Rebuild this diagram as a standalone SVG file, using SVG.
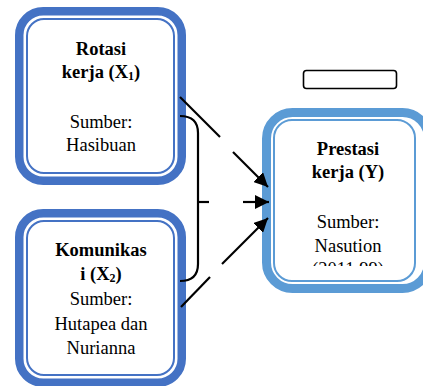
<svg xmlns="http://www.w3.org/2000/svg" width="423" height="386" viewBox="0 0 423 386">
<style>
.t{font-family:'Liberation Serif',Tinos,'DejaVu Serif',serif;font-size:18.5px;fill:#000;text-anchor:middle}
.b{font-weight:bold}
.thick1{fill:none;stroke:#4472C4;stroke-width:8.5}
.thin1{fill:none;stroke:#4472C4;stroke-width:2}
.thick3{fill:none;stroke:#5B9BD5;stroke-width:9}
.thin3{fill:none;stroke:#5B9BD5;stroke-width:2}
.ln{fill:none;stroke:#000;stroke-width:2.2}
</style>
<defs>
<marker id="ah" markerUnits="userSpaceOnUse" markerWidth="16" markerHeight="14" refX="14" refY="7" orient="auto">
<path d="M0,0 L14,7 L0,14 Z" fill="#000"/>
</marker>
<clipPath id="c3"><rect x="262" y="100" width="170" height="166"/></clipPath>
</defs>
<rect width="423" height="386" fill="#fff"/>
<g id="box1">
<rect class="thick1" x="19.25" y="11.25" width="162.5" height="169.5" rx="24"/>
<rect class="thin1" x="27" y="19" width="147" height="154" rx="17"/>
<text class="t b" x="101" y="55">Rotasi</text>
<text class="t b" x="101" y="78">kerja (X<tspan font-size="12" dy="2">1</tspan><tspan dy="-2">)</tspan></text>
<text class="t" x="101" y="128">Sumber:</text>
<text class="t" x="101" y="151">Hasibuan</text>
</g>
<g id="box2">
<rect class="thick1" x="19.25" y="213.25" width="162.5" height="169.5" rx="24"/>
<rect class="thin1" x="27" y="221" width="147" height="154" rx="17"/>
<text class="t b" x="101" y="256">Komunikas</text>
<text class="t b" x="101" y="280">i (X<tspan font-size="12" dy="2">2</tspan><tspan dy="-2">)</tspan></text>
<text class="t" x="101" y="305">Sumber:</text>
<text class="t" x="101" y="330">Hutapea dan</text>
<text class="t" x="101" y="354">Nurianna</text>
</g>
<g id="box3">
<rect class="thick3" x="266.5" y="112.5" width="162" height="176" rx="26"/>
<rect class="thin3" x="274" y="120" width="141" height="161" rx="18"/>
<text class="t b" x="348" y="155">Prestasi</text>
<text class="t b" x="348" y="178">kerja (Y)</text>
<text class="t" x="348" y="228">Sumber:</text>
<text class="t" x="348" y="252">Nasution</text>
<text class="t" x="348" y="275" clip-path="url(#c3)">(2011,99)</text>
</g>
<g id="label">
<rect x="303.5" y="70.5" width="93" height="18" rx="3" fill="#fff" stroke="#000" stroke-width="1.6"/>
</g>
<g id="connectors">
<path class="ln" d="M180,97 L220,137"/>
<path class="ln" d="M233,152 L268,187" marker-end="url(#ah)"/>
<path class="ln" d="M181,307 L210,277"/>
<path class="ln" d="M222,264 L268,218" marker-end="url(#ah)"/>
<path class="ln" d="M198,202 L209,202"/>
<path class="ln" d="M243,202 L269,202" marker-end="url(#ah)"/>
<path class="ln" d="M180,116 Q198,116 198,133 L198,264 Q198,281 180,281"/>
</g>
</svg>
